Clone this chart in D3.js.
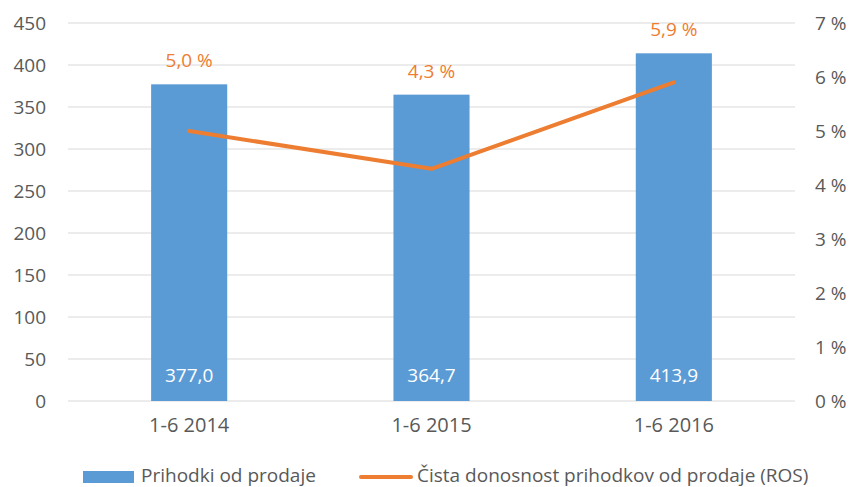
<!DOCTYPE html>
<html>
<head>
<meta charset="utf-8">
<script src="https://cdn.jsdelivr.net/npm/d3@7"></script>
<style>
  body { margin: 0; background: #fff; }
  text { font-family: "Open Sans", sans-serif; }
</style>
</head>
<body>
<div id="chart"></div>
<script>
// chart data
let categories = ["1-6 2014", "1-6 2015", "1-6 2016"];
let revenue = [377.0, 364.7, 413.9];
let ros = [5.0, 4.3, 5.9];
let left_ticks = [0, 50, 100, 150, 200, 250, 300, 350, 400, 450];
let right_ticks = [0, 1, 2, 3, 4, 5, 6, 7];
let legend_labels = ["Prihodki od prodaje", "Čista donosnost prihodkov od prodaje (ROS)"];

let width = 852, height = 487;
let margin = { top: 23, right: 57, bottom: 86, left: 68 };
let blue = "#5b9bd5", orange = "#ed7d31", grey = "#595959";

let fmt = d => d.toFixed(1).replace(".", ",");

let svg = d3.select("#chart").append("svg")
    .attr("width", width)
    .attr("height", height);

let x = d3.scaleBand()
    .domain(categories)
    .range([margin.left, width - margin.right])
    .paddingInner(0.686)
    .paddingOuter(0.343);

let y = d3.scaleLinear()
    .domain([0, 450])
    .range([height - margin.bottom, margin.top]);

let y2 = d3.scaleLinear()
    .domain([0, 7])
    .range([height - margin.bottom, margin.top]);

// grid lines
svg.append("g")
    .selectAll("line")
    .data(left_ticks)
    .enter()
    .append("line")
    .attr("x1", margin.left)
    .attr("x2", width - margin.right)
    .attr("y1", d => y(d))
    .attr("y2", d => y(d))
    .style("stroke", "#d9d9d9")
    .style("stroke-width", 1);

// left axis
let leftAxis = svg.append("g")
    .attr("transform", "translate(" + margin.left + ",0)")
    .call(d3.axisLeft(y).tickValues(left_ticks).tickSize(0).tickPadding(22));
leftAxis.select(".domain").remove();
leftAxis.selectAll("text")
    .attr("fill", grey)
    .attr("font-size", "19px");

// right axis
let rightAxis = svg.append("g")
    .attr("transform", "translate(" + (width - margin.right) + ",0)")
    .call(d3.axisRight(y2).tickValues(right_ticks).tickSize(0).tickPadding(20)
        .tickFormat(d => d + " %"));
rightAxis.select(".domain").remove();
rightAxis.selectAll("text")
    .attr("fill", grey)
    .attr("font-size", "19px");

// bottom axis
let bottomAxis = svg.append("g")
    .attr("transform", "translate(0," + (height - margin.bottom) + ")")
    .call(d3.axisBottom(x).tickSize(0).tickPadding(17));
bottomAxis.select(".domain").remove();
bottomAxis.selectAll("text")
    .attr("fill", grey)
    .attr("font-size", "20px");

// bars
svg.selectAll(".bar")
    .data(revenue)
    .enter()
    .append("rect")
    .attr("class", "bar")
    .attr("x", (d, i) => x(categories[i]))
    .attr("y", d => y(d))
    .attr("width", x.bandwidth())
    .attr("height", d => y(0) - y(d))
    .style("fill", blue);

// bar value labels
svg.selectAll(".bar_label")
    .data(revenue)
    .enter()
    .append("text")
    .attr("class", "bar_label")
    .attr("x", (d, i) => x(categories[i]) + x.bandwidth() / 2)
    .attr("y", y(0) - 24)
    .attr("text-anchor", "middle")
    .attr("dominant-baseline", "middle")
    .attr("font-size", "19px")
    .attr("fill", "white")
    .text(fmt);

// ROS line
let line = d3.line()
    .x((d, i) => x(categories[i]) + x.bandwidth() / 2)
    .y(d => y2(d));

svg.append("path")
    .datum(ros)
    .attr("d", line)
    .style("fill", "none")
    .style("stroke", orange)
    .style("stroke-width", 4)
    .style("stroke-linecap", "round")
    .style("stroke-linejoin", "round");

// ROS labels above the bars
svg.selectAll(".ros_label")
    .data(ros)
    .enter()
    .append("text")
    .attr("class", "ros_label")
    .attr("x", (d, i) => x(categories[i]) + x.bandwidth() / 2)
    .attr("y", (d, i) => y(revenue[i]) - 22)
    .attr("text-anchor", "middle")
    .attr("dominant-baseline", "middle")
    .attr("font-size", "19px")
    .attr("fill", orange)
    .text(d => fmt(d) + " %");

// legend
let legend = svg.append("g");
legend.append("rect")
    .attr("x", 83)
    .attr("y", 471)
    .attr("width", 51)
    .attr("height", 12)
    .style("fill", blue);
legend.append("text")
    .attr("x", 141)
    .attr("y", 477)
    .attr("dominant-baseline", "middle")
    .attr("font-size", "19px")
    .attr("fill", grey)
    .text(legend_labels[0]);
legend.append("line")
    .attr("x1", 361)
    .attr("x2", 411)
    .attr("y1", 477)
    .attr("y2", 477)
    .style("stroke", orange)
    .style("stroke-width", 4)
    .style("stroke-linecap", "round");
legend.append("text")
    .attr("x", 417)
    .attr("y", 477)
    .attr("dominant-baseline", "middle")
    .attr("font-size", "19px")
    .attr("fill", grey)
    .text(legend_labels[1]);
</script>
</body>
</html>
